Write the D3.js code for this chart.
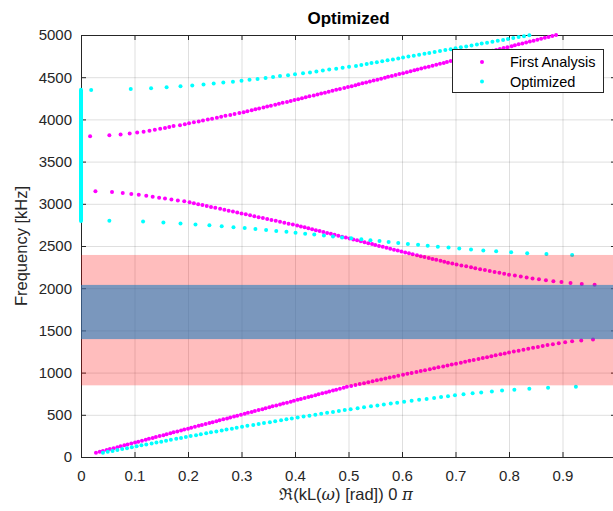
<!DOCTYPE html>
<html>
<head>
<meta charset="utf-8">
<script src="https://cdn.jsdelivr.net/npm/d3@7"></script>
<style>
  body { margin: 0; background: #fff; }
  svg { display: block; font-family: "Liberation Sans", Arial, sans-serif; }
</style>
</head>
<body>
<svg width="613" height="511"></svg>
<script>
// points as [Re(kL)/pi, frequency in Hz]
const firstBranch1 = [
  [0.028,50],[0.035,61],[0.041,72],[0.048,83],[0.054,94],[0.061,105],[0.068,116],[0.074,127],[0.081,138],[0.087,149],
  [0.094,160],[0.101,171],[0.107,182],[0.114,193],[0.121,204],[0.127,215],[0.134,226],[0.140,237],[0.147,248],[0.154,259],
  [0.160,270],[0.167,281],[0.173,292],[0.180,303],[0.187,314],[0.193,325],[0.200,336],[0.206,347],[0.213,358],[0.220,369],
  [0.226,380],[0.233,391],[0.240,402],[0.246,413],[0.253,424],[0.259,435],[0.266,446],[0.273,457],[0.279,468],[0.286,479],
  [0.292,490],[0.299,501],[0.306,512],[0.312,523],[0.319,534],[0.325,545],[0.332,556],[0.339,567],[0.345,578],[0.352,589],
  [0.358,600],[0.365,611],[0.372,622],[0.378,633],[0.385,644],[0.392,655],[0.398,666],[0.405,677],[0.411,688],[0.418,699],
  [0.425,710],[0.431,721],[0.438,732],[0.444,743],[0.451,754],[0.458,765],[0.464,776],[0.471,787],[0.477,798],[0.484,809],
  [0.491,820],[0.497,831],[0.505,842],[0.513,853],[0.521,864],[0.529,875],[0.537,886],[0.545,897],[0.553,908],[0.561,919],
  [0.569,930],[0.577,941],[0.585,952],[0.593,963],[0.602,974],[0.610,985],[0.618,996],[0.627,1007],[0.635,1018],[0.643,1029],
  [0.652,1040],[0.660,1051],[0.668,1062],[0.677,1073],[0.685,1084],[0.693,1095],[0.701,1106],[0.710,1117],[0.718,1128],[0.726,1139],
  [0.734,1150],[0.743,1161],[0.751,1172],[0.759,1183],[0.767,1194],[0.775,1205],[0.784,1216],[0.792,1227],[0.800,1238],[0.809,1249],
  [0.818,1260],[0.827,1271],[0.836,1282],[0.845,1293],[0.854,1304],[0.863,1315],[0.872,1326],[0.882,1337],[0.893,1348],[0.905,1359],
  [0.918,1370],[0.935,1381],[0.957,1392]
];
const firstBranch2 = [
  [0.027,3150],[0.058,3139],[0.078,3128],[0.094,3117],[0.108,3106],[0.122,3095],[0.134,3084],[0.146,3073],[0.157,3062],[0.169,3051],
  [0.181,3040],[0.193,3029],[0.203,3018],[0.211,3007],[0.219,2996],[0.227,2985],[0.235,2974],[0.243,2963],[0.251,2952],[0.260,2941],
  [0.268,2930],[0.276,2919],[0.284,2908],[0.292,2897],[0.300,2886],[0.308,2875],[0.316,2864],[0.324,2853],[0.332,2842],[0.340,2831],
  [0.348,2820],[0.356,2809],[0.364,2798],[0.372,2787],[0.380,2776],[0.388,2765],[0.396,2754],[0.404,2743],[0.411,2732],[0.418,2721],
  [0.425,2710],[0.432,2699],[0.439,2688],[0.446,2677],[0.453,2666],[0.460,2655],[0.467,2644],[0.474,2633],[0.481,2622],[0.488,2611],
  [0.495,2600],[0.502,2589],[0.509,2578],[0.516,2567],[0.523,2556],[0.530,2545],[0.537,2534],[0.544,2523],[0.550,2512],[0.557,2501],
  [0.564,2490],[0.571,2479],[0.578,2468],[0.585,2457],[0.592,2446],[0.599,2435],[0.606,2424],[0.613,2413],[0.620,2402],[0.628,2391],
  [0.635,2380],[0.642,2369],[0.650,2358],[0.657,2347],[0.664,2336],[0.672,2325],[0.679,2314],[0.686,2303],[0.694,2292],[0.702,2281],
  [0.711,2270],[0.720,2259],[0.729,2248],[0.737,2237],[0.746,2226],[0.755,2215],[0.764,2204],[0.773,2193],[0.782,2182],[0.791,2171],
  [0.800,2160],[0.811,2149],[0.822,2138],[0.833,2127],[0.844,2116],[0.856,2105],[0.869,2094],[0.883,2083],[0.898,2072],[0.915,2062],
  [0.936,2051],[0.960,2040]
];
const firstBranch3 = [
  [0.017,3800],[0.053,3811],[0.074,3822],[0.091,3833],[0.105,3844],[0.117,3855],[0.128,3866],[0.138,3877],[0.148,3888],[0.157,3899],
  [0.165,3910],[0.173,3921],[0.185,3932],[0.194,3943],[0.202,3954],[0.211,3965],[0.220,3976],[0.228,3987],[0.237,3998],[0.245,4009],
  [0.254,4020],[0.262,4031],[0.270,4042],[0.279,4053],[0.287,4064],[0.296,4075],[0.304,4086],[0.311,4097],[0.319,4108],[0.326,4119],
  [0.333,4130],[0.341,4141],[0.348,4152],[0.355,4163],[0.363,4174],[0.370,4185],[0.377,4196],[0.385,4207],[0.392,4218],[0.399,4229],
  [0.406,4240],[0.413,4251],[0.420,4262],[0.427,4273],[0.435,4284],[0.442,4295],[0.449,4306],[0.456,4317],[0.463,4328],[0.470,4339],
  [0.477,4350],[0.484,4361],[0.492,4372],[0.499,4383],[0.506,4394],[0.513,4405],[0.519,4416],[0.526,4427],[0.533,4438],[0.540,4449],
  [0.547,4460],[0.554,4471],[0.561,4482],[0.568,4493],[0.574,4504],[0.581,4515],[0.588,4526],[0.595,4537],[0.602,4548],[0.609,4559],
  [0.616,4570],[0.623,4581],[0.629,4592],[0.636,4603],[0.643,4614],[0.650,4625],[0.657,4636],[0.664,4647],[0.671,4658],[0.678,4669],
  [0.684,4680],[0.691,4691],[0.698,4702],[0.705,4713],[0.712,4724],[0.719,4735],[0.726,4746],[0.734,4757],[0.741,4768],[0.748,4779],
  [0.755,4790],[0.762,4801],[0.769,4812],[0.776,4823],[0.783,4834],[0.790,4845],[0.797,4856],[0.805,4867],[0.811,4878],[0.818,4889],
  [0.825,4900],[0.832,4911],[0.839,4922],[0.846,4933],[0.853,4944],[0.860,4955],[0.867,4966],[0.874,4977],[0.881,4988],[0.888,4999]
];
const optBranch1 = [
  [0.041,50],[0.050,61],[0.059,72],[0.068,83],[0.077,94],[0.086,105],[0.095,116],[0.104,127],[0.113,138],[0.122,149],
  [0.132,160],[0.141,171],[0.150,182],[0.159,193],[0.168,204],[0.178,215],[0.187,226],[0.196,237],[0.205,248],[0.215,259],
  [0.224,270],[0.234,281],[0.243,292],[0.253,303],[0.263,314],[0.272,325],[0.282,336],[0.291,347],[0.301,358],[0.311,369],
  [0.322,380],[0.332,391],[0.342,402],[0.353,413],[0.363,424],[0.374,435],[0.384,446],[0.394,457],[0.405,468],[0.416,479],
  [0.427,490],[0.438,501],[0.449,512],[0.460,523],[0.471,534],[0.482,545],[0.493,556],[0.504,567],[0.517,578],[0.529,589],
  [0.542,600],[0.554,611],[0.566,622],[0.579,633],[0.591,644],[0.604,655],[0.618,666],[0.632,677],[0.646,688],[0.660,699],
  [0.673,710],[0.686,721],[0.699,732],[0.715,743],[0.732,754],[0.748,765],[0.768,776],[0.787,787],[0.810,798],[0.838,809],
  [0.873,820],[0.925,831]
];
const optBranch2 = [
  [0.053,2800],[0.116,2789],[0.154,2778],[0.186,2767],[0.214,2756],[0.240,2745],[0.263,2734],[0.285,2723],[0.306,2712],[0.326,2701],
  [0.346,2690],[0.365,2679],[0.384,2668],[0.401,2657],[0.419,2646],[0.436,2635],[0.454,2624],[0.471,2613],[0.488,2602],[0.505,2591],
  [0.524,2580],[0.541,2569],[0.558,2558],[0.575,2547],[0.593,2536],[0.611,2525],[0.630,2514],[0.648,2503],[0.667,2492],[0.687,2481],
  [0.707,2470],[0.729,2459],[0.752,2448],[0.776,2437],[0.804,2426],[0.834,2415],[0.870,2404],[0.918,2393]
];
const optBranch3 = [
  [0.019,4348],[0.093,4359],[0.131,4370],[0.160,4381],[0.186,4392],[0.208,4403],[0.229,4414],[0.248,4425],[0.266,4436],[0.284,4447],
  [0.300,4458],[0.315,4469],[0.330,4480],[0.345,4491],[0.359,4502],[0.372,4513],[0.387,4524],[0.400,4535],[0.415,4546],[0.428,4557],
  [0.440,4568],[0.452,4579],[0.464,4590],[0.477,4601],[0.489,4612],[0.501,4623],[0.514,4634],[0.524,4645],[0.534,4656],[0.543,4667],
  [0.553,4678],[0.563,4689],[0.573,4700],[0.583,4711],[0.593,4722],[0.602,4733],[0.612,4744],[0.622,4755],[0.632,4766],[0.642,4777],
  [0.651,4788],[0.661,4799],[0.671,4810],[0.681,4821],[0.691,4832],[0.700,4843],[0.710,4854],[0.720,4865],[0.730,4876],[0.740,4887],
  [0.749,4898],[0.759,4909],[0.769,4920],[0.779,4931],[0.789,4942],[0.798,4953],[0.808,4964],[0.818,4975],[0.828,4986],[0.838,4997]
];
// optimized design: Re(kL) = 0 over this frequency range (drawn as a solid run of dots)
const optZeroRun = [2795, 4352];

// stop bands shaded behind the curves [low, high] Hz
const optimizedGap = [849, 2394];
const firstGap = [1397, 2039];

const xTickValues = [0, 0.1, 0.2, 0.3, 0.4, 0.5, 0.6, 0.7, 0.8, 0.9, 1];
const xTickLabels = ["0", "0.1", "0.2", "0.3", "0.4", "0.5", "0.6", "0.7", "0.8", "0.9", ""]; // "1" falls outside the crop
const yTickValues = [0, 500, 1000, 1500, 2000, 2500, 3000, 3500, 4000, 4500, 5000];

const series = [
  { name: "First Analysis", color: "#ff00ff", branches: [firstBranch1, firstBranch2, firstBranch3] },
  { name: "Optimized", color: "#00ffff", branches: [optBranch1, optBranch2, optBranch3] }
];

const axisColor = "#262626";
const fontFamily = '"Liberation Sans", Arial, sans-serif';

const svg = d3.select("svg");

const x = d3.scaleLinear().domain([0, 1]).range([81, 616]);
const y = d3.scaleLinear().domain([0, 5000]).range([457, 35]);

// grid
svg.append("g")
  .attr("transform", `translate(0, ${y(0)})`)
  .call(d3.axisBottom(x).tickValues(xTickValues).tickFormat("").tickSize(-(y(0) - y(5000))))
  .call(g => g.select(".domain").remove())
  .selectAll("line").attr("stroke", axisColor).attr("stroke-opacity", 0.15);

svg.append("g")
  .attr("transform", `translate(${x(0)}, 0)`)
  .call(d3.axisLeft(y).tickValues(yTickValues).tickFormat("").tickSize(-(x(1) - x(0))))
  .call(g => g.select(".domain").remove())
  .selectAll("line").attr("stroke", axisColor).attr("stroke-opacity", 0.15);

// axes (box with inward ticks)
function styleAxis(g) {
  g.attr("font-family", fontFamily).attr("font-size", 15);
  g.selectAll("path, line").attr("stroke", axisColor);
  g.selectAll("text").attr("fill", axisColor);
}

svg.append("g")
  .attr("transform", `translate(0, ${y(0)})`)
  .call(d3.axisBottom(x).tickValues(xTickValues).tickFormat((d, i) => xTickLabels[i])
    .tickSize(-5).tickSizeOuter(0).tickPadding(13))
  .call(styleAxis);

svg.append("g")
  .attr("transform", `translate(0, ${y(5000)})`)
  .call(d3.axisTop(x).tickValues(xTickValues).tickFormat("").tickSize(-5).tickSizeOuter(0))
  .call(styleAxis);

svg.append("g")
  .attr("transform", `translate(${x(0)}, 0)`)
  .call(d3.axisLeft(y).tickValues(yTickValues).tickFormat(d => String(d))
    .tickSize(-5).tickSizeOuter(0).tickPadding(9))
  .call(styleAxis);

svg.append("g")
  .attr("transform", `translate(${x(1)}, 0)`)
  .call(d3.axisRight(y).tickValues(yTickValues).tickFormat("").tickSize(-5).tickSizeOuter(0))
  .call(styleAxis);

// data points
series.forEach(s => {
  svg.append("g")
    .selectAll("circle")
    .data(s.branches.flat())
    .enter()
    .append("circle")
    .attr("cx", d => x(d[0]))
    .attr("cy", d => y(d[1]))
    .attr("r", 2)
    .attr("fill", s.color);
});

svg.append("line")
  .attr("x1", x(0)).attr("x2", x(0))
  .attr("y1", y(optZeroRun[0])).attr("y2", y(optZeroRun[1]))
  .attr("stroke", "#00ffff")
  .attr("stroke-width", 4)
  .attr("stroke-linecap", "round");

// stop bands (semi-transparent, on top of the points)
svg.append("rect")
  .attr("x", x(0)).attr("width", x(1) - x(0))
  .attr("y", y(optimizedGap[1])).attr("height", y(optimizedGap[0]) - y(optimizedGap[1]))
  .attr("fill", "#ff0000").attr("fill-opacity", 0.26);

svg.append("rect")
  .attr("x", x(0)).attr("width", x(1) - x(0))
  .attr("y", y(firstGap[1])).attr("height", y(firstGap[0]) - y(firstGap[1]))
  .attr("fill", "rgb(33,125,188)").attr("fill-opacity", 0.6);

// title and labels
svg.append("text")
  .attr("x", (x(0) + x(1)) / 2)
  .attr("y", 24)
  .attr("text-anchor", "middle")
  .attr("font-family", fontFamily)
  .attr("font-size", 17)
  .attr("font-weight", "bold")
  .attr("fill", "#000")
  .text("Optimized");

svg.append("text")
  .attr("transform", `translate(27, ${(y(0) + y(5000)) / 2}) rotate(-90)`)
  .attr("text-anchor", "middle")
  .attr("font-family", fontFamily)
  .attr("font-size", 16.5)
  .attr("fill", axisColor)
  .text("Frequency [kHz]");

const xLabel = svg.append("text")
  .attr("x", 346)
  .attr("y", 499.5)
  .attr("text-anchor", "middle")
  .attr("font-family", fontFamily)
  .attr("font-size", 16.5)
  .attr("fill", axisColor);
xLabel.append("tspan").text("\u211C(kL(");
xLabel.append("tspan").attr("font-style", "italic").attr("font-family", '"DejaVu Serif", serif').text("\u03C9");
xLabel.append("tspan").text(") [rad]) 0 ");
xLabel.append("tspan").attr("font-style", "italic").attr("font-family", '"DejaVu Serif", serif').text("\u03C0");

// legend
const legend = svg.append("g").attr("font-family", fontFamily).attr("font-size", 14.5);
legend.append("rect")
  .attr("x", 452.5).attr("y", 49.5)
  .attr("width", 151).attr("height", 43)
  .attr("fill", "#fff")
  .attr("stroke", axisColor);
series.forEach((s, i) => {
  legend.append("circle")
    .attr("cx", 482).attr("cy", 62 + i * 19.5)
    .attr("r", 2).attr("fill", s.color);
  legend.append("text")
    .attr("x", 510).attr("y", 67 + i * 19.5)
    .attr("fill", "#000")
    .text(s.name);
});
</script>
</body>
</html>
